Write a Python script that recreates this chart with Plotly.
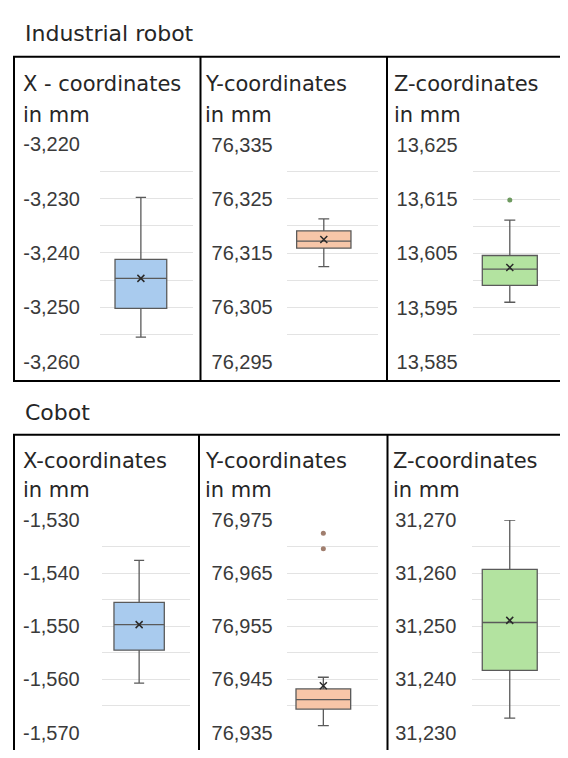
import plotly.graph_objects as go

# ---------------- data ----------------
coord_titles = ["X - coordinates", "Y-coordinates", "Z-coordinates"]
cobot_titles = ["X-coordinates", "Y-coordinates", "Z-coordinates"]
unit_label = "in mm"
group_titles = ["Industrial robot", "Cobot"]

# Industrial robot box statistics (X, Y, Z)
ir_lower = [-3255.5, 76312.5, 13596.0]
ir_q1 = [-3250.2, 76315.9, 13599.1]
ir_median = [-3244.7, 76317.2, 13602.1]
ir_q3 = [-3241.2, 76319.1, 13604.6]
ir_upper = [-3229.8, 76321.3, 13611.1]
ir_mean = [-3244.7, 76317.5, 13602.4]
ir_outliers = [[], [], [13614.8]]

# Cobot box statistics (X, Y, Z)
cb_lower = [-1560.7, 76936.3, 31232.7]
cb_q1 = [-1554.5, 76939.4, 31241.7]
cb_median = [-1549.7, 76941.2, 31250.7]
cb_q3 = [-1545.5, 76943.2, 31260.7]
cb_upper = [-1537.6, 76945.4, 31270.0]
cb_mean = [-1549.7, 76943.8, 31251.1]
cb_outliers = [[], [76972.5, 76969.6], []]

# axis ticks (labelled every 10, grid every 5)
ir_tick_vals = [
    [-3260, -3250, -3240, -3230, -3220],
    [76295, 76305, 76315, 76325, 76335],
    [13585, 13595, 13605, 13615, 13625],
]
ir_tick_text = [
    ["-3,260", "-3,250", "-3,240", "-3,230", "-3,220"],
    ["76,295", "76,305", "76,315", "76,325", "76,335"],
    ["13,585", "13,595", "13,605", "13,615", "13,625"],
]
cb_tick_vals = [
    [-1570, -1560, -1550, -1540, -1530],
    [76935, 76945, 76955, 76965, 76975],
    [31230, 31240, 31250, 31260, 31270],
]
cb_tick_text = [
    ["-1,570", "-1,560", "-1,550", "-1,540", "-1,530"],
    ["76,935", "76,945", "76,955", "76,965", "76,975"],
    ["31,230", "31,240", "31,250", "31,260", "31,270"],
]

# ---------------- styling / layout ----------------
# the page body has an 8px margin; the figure is sized to fit the window
OFF = 8
W, H = 552, 742
fill_colors = ["#A9CBEE", "#F7C6A8", "#B3E3A0"]
outlier_colors = ["#5B7FA8", "#A07E6E", "#6E9A60"]
line_color = "#5A5A5A"
grid_color = "#E3E3E3"
tick_font = dict(family="Liberation Sans, Arial", size=20, color="#3A3A3A")
title_font = dict(family="DejaVu Sans", size=21, color="#262626")
group_font = dict(family="DejaVu Sans", size=22, color="#262626")


def fx(px):
    return (px - OFF) / W


def fy(py):
    return 1 - (py - OFF) / H


# per panel: x-domain (px), y-domain (px), box center, box width, label gap
panel_geo = [
    dict(x=(100, 192.7), y=(137, 361), c=0.441, w=0.558, gap=15),
    dict(x=(286.7, 378.3), y=(137.5, 361), c=0.405, w=0.593, gap=9),
    dict(x=(472.7, 565), y=(137.5, 361.5), c=0.402, w=0.596, gap=10),
    dict(x=(101.7, 190), y=(524.3, 743.3), c=0.424, w=0.57, gap=17),
    dict(x=(286.7, 378.3), y=(524.3, 743.3), c=0.40, w=0.597, gap=9),
    dict(x=(472.3, 565), y=(524.3, 743.3), c=0.404, w=0.593, gap=11),
]

groups = [
    (ir_lower, ir_q1, ir_median, ir_q3, ir_upper, ir_mean, ir_outliers, ir_tick_vals, ir_tick_text),
    (cb_lower, cb_q1, cb_median, cb_q3, cb_upper, cb_mean, cb_outliers, cb_tick_vals, cb_tick_text),
]

fig = go.Figure()
layout_axes = {}

k = 0
for g, (lo, q1, med, q3, up, mn, outl, tv, tt) in enumerate(groups):
    for i in range(3):
        geo = panel_geo[k]
        k += 1
        xa = "x" if k == 1 else f"x{k}"
        ya = "y" if k == 1 else f"y{k}"
        # keep the axis scale identical while the domain is clipped to the figure
        x0p, x1p = geo["x"]
        x1c = min(x1p, OFF + W)
        xr_hi = (x1c - x0p) / (x1p - x0p)
        c = geo["c"]
        fig.add_trace(go.Box(
            x=[c], q1=[q1[i]], median=[med[i]], q3=[q3[i]],
            lowerfence=[lo[i]], upperfence=[up[i]],
            width=geo["w"], whiskerwidth=0.2,
            fillcolor=fill_colors[i],
            line=dict(color=line_color, width=1.3),
            boxpoints=False, showlegend=False, hoverinfo="skip",
            xaxis=xa, yaxis=ya,
        ))
        fig.add_trace(go.Scatter(
            x=[c], y=[mn[i]], mode="markers",
            marker=dict(symbol="x-thin", size=7, line=dict(width=1.5, color="#2A2A2A")),
            showlegend=False, hoverinfo="skip", xaxis=xa, yaxis=ya,
        ))
        if outl[i]:
            fig.add_trace(go.Scatter(
                x=[c] * len(outl[i]), y=outl[i], mode="markers",
                marker=dict(symbol="circle", size=5, color=outlier_colors[i]),
                showlegend=False, hoverinfo="skip", xaxis=xa, yaxis=ya,
            ))
        # grid every 5 units, labels every 10
        vals = []
        texts = []
        for j, v in enumerate(tv[i]):
            vals.append(v)
            texts.append(tt[i][j])
            if j < len(tv[i]) - 1:
                vals.append((v + tv[i][j + 1]) / 2)
                texts.append("")
        kx = "xaxis" if k == 1 else f"xaxis{k}"
        ky = "yaxis" if k == 1 else f"yaxis{k}"
        y0p, y1p = geo["y"]
        y1c = min(y1p, OFF + H)
        lo_frac = (y1c - y0p) / (y1p - y0p)
        ymin = tv[i][-1] - (tv[i][-1] - tv[i][0]) * lo_frac
        layout_axes[kx] = dict(
            domain=[fx(x0p), fx(x1c)], range=[0, xr_hi],
            visible=False, fixedrange=True, anchor=ya,
        )
        layout_axes[ky] = dict(
            domain=[fy(y1c), fy(y0p)],
            range=[ymin, tv[i][-1]], anchor=xa,
            tickmode="array", tickvals=vals, ticktext=texts,
            showgrid=True, gridcolor=grid_color, gridwidth=1,
            zeroline=False, showline=False,
            ticks="outside", ticklen=geo["gap"], tickcolor="rgba(0,0,0,0)",
            tickfont=tick_font, fixedrange=True,
        )

shapes = []
black = dict(color="black", width=2)
# top frame
shapes.append(dict(type="rect", xref="paper", yref="paper",
                   x0=fx(14), x1=fx(580), y0=fy(381), y1=fy(47), line=black))
for xd in (200.5, 387):
    shapes.append(dict(type="line", xref="paper", yref="paper",
                       x0=fx(xd), x1=fx(xd), y0=fy(381), y1=fy(47), line=black))
# bottom frame
shapes.append(dict(type="rect", xref="paper", yref="paper",
                   x0=fx(14), x1=fx(580), y0=fy(770), y1=fy(436.5), line=black))
for xd in (199, 387.5):
    shapes.append(dict(type="line", xref="paper", yref="paper",
                       x0=fx(xd), x1=fx(xd), y0=fy(770), y1=fy(436.5), line=black))

annotations = []


def add_text(txt, px, py, font):
    annotations.append(dict(text=txt, xref="paper", yref="paper",
                            x=fx(px), y=fy(py), xanchor="left", yanchor="middle",
                            showarrow=False, font=font))


add_text(group_titles[0], 23, 23, group_font)
add_text(group_titles[1], 23, 414, group_font)

top_x = [21, 203, 392]
bot_x = [21, 203, 391]
for i in range(3):
    add_text(coord_titles[i], top_x[i], 75, title_font)
    add_text(unit_label, top_x[i], 107, title_font)
    add_text(cobot_titles[i], bot_x[i], 463, title_font)
    add_text(unit_label, bot_x[i], 493, title_font)

fig.update_layout(
    width=W, height=H,
    margin=dict(l=0, r=0, t=0, b=0),
    paper_bgcolor="white", plot_bgcolor="white",
    shapes=shapes, annotations=annotations,
    showlegend=False,
    **layout_axes,
)

fig.write_html("out.html")
